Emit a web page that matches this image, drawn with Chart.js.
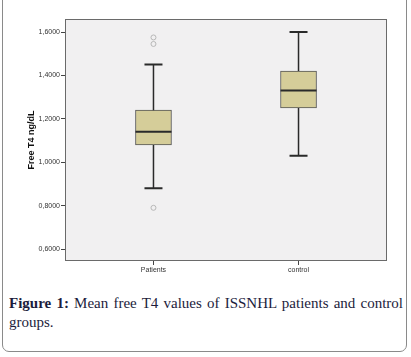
<!DOCTYPE html>
<html>
<head>
<meta charset="utf-8">
<script src="https://cdn.jsdelivr.net/npm/chart.js@4/dist/chart.umd.min.js"></script>
<style>
  html, body { margin: 0; padding: 0; background: #fff; }
  #wrap { position: relative; width: 411px; height: 357px; overflow: hidden; }
  #frame { position: absolute; left: 2px; top: -12px; width: 403px; height: 362px;
           border: 1.5px solid #8a8a8a; border-radius: 7px; }
  #cv { position: absolute; left: 0; top: 0; }
  #cap { position: absolute; left: 9px; top: 294px; width: 394px;
         font-family: "Liberation Serif", "DejaVu Serif", serif; font-size: 15px;
         line-height: 19px; text-align: justify; color: #1c1c3c; }
</style>
</head>
<body>
<div id="wrap">
  <div id="frame"></div>
  <canvas id="cv" width="411" height="280"></canvas>
  <div id="cap"><b>Figure 1:</b> Mean free T4 values of ISSNHL patients and control groups.</div>
</div>
<script>
const categories = ['Patients', 'control'];
const whiskerLow = [0.88, 1.03];
const q1 = [1.08, 1.25];
const median = [1.14, 1.33];
const q3 = [1.24, 1.42];
const whiskerHigh = [1.45, 1.60];
const outlierCat = [0, 0, 0];
const outlierVal = [1.575, 1.545, 0.79];
const yTicks = [0.6, 0.8, 1.0, 1.2, 1.4, 1.6];
const yTickLabels = ['0,6000', '0,8000', '1,0000', '1,2000', '1,4000', '1,6000'];

const boxData = categories.map((c, i) => ({ x: i + 1, y: [q1[i], q3[i]] }));
const outData = outlierVal.map((v, i) => ({ x: outlierCat[i] + 1, y: v }));

const boxPlugin = {
  id: 'boxplot',
  beforeDraw(chart) {
    const a = chart.chartArea, ctx = chart.ctx;
    ctx.save();
    ctx.fillStyle = '#f1f0f1';
    ctx.fillRect(a.left, a.top, a.right - a.left, a.bottom - a.top);
    ctx.restore();
  },
  afterDatasetsDraw(chart) {
    const xs = chart.scales.x, ys = chart.scales.y, ctx = chart.ctx;
    const a = chart.chartArea;
    ctx.save();
    ctx.strokeStyle = '#6a6a6a';
    ctx.lineWidth = 1;
    ctx.strokeRect(a.left + 0.5, a.top + 0.5, a.right - a.left - 1, a.bottom - a.top - 1);
    ctx.strokeStyle = '#2a2a2a';
    categories.forEach((c, i) => {
      const x = xs.getPixelForValue(i + 1);
      const cap = 9;
      ctx.lineWidth = 1.5;
      ctx.beginPath();
      ctx.moveTo(x, ys.getPixelForValue(q3[i]));
      ctx.lineTo(x, ys.getPixelForValue(whiskerHigh[i]));
      ctx.moveTo(x, ys.getPixelForValue(q1[i]));
      ctx.lineTo(x, ys.getPixelForValue(whiskerLow[i]));
      ctx.stroke();
      ctx.lineWidth = 2;
      ctx.beginPath();
      const yh = ys.getPixelForValue(whiskerHigh[i]);
      const yl = ys.getPixelForValue(whiskerLow[i]);
      ctx.moveTo(x - cap, yh); ctx.lineTo(x + cap, yh);
      ctx.moveTo(x - cap, yl); ctx.lineTo(x + cap, yl);
      ctx.stroke();
      const ym = ys.getPixelForValue(median[i]);
      const half = 18;
      ctx.lineWidth = 2;
      ctx.beginPath();
      ctx.moveTo(x - half, ym); ctx.lineTo(x + half, ym);
      ctx.stroke();
    });
    ctx.restore();
  }
};

new Chart(document.getElementById('cv'), {
  data: {
    datasets: [
      {
        type: 'bar',
        data: boxData,
        backgroundColor: '#d5cd99',
        borderColor: '#555555',
        borderWidth: 1,
        borderSkipped: false,
        barThickness: 36
      },
      {
        type: 'scatter',
        data: outData,
        pointStyle: 'circle',
        radius: 2.5,
        backgroundColor: 'rgba(0,0,0,0)',
        borderColor: '#b8b8b8',
        borderWidth: 1
      }
    ]
  },
  options: {
    responsive: false,
    animation: false,
    layout: { padding: { left: 0, right: 24, top: 19, bottom: 0 } },
    plugins: { legend: { display: false }, tooltip: { enabled: false } },
    scales: {
      x: {
        type: 'linear',
        offset: false,
        min: 0.39, max: 2.61,
        afterBuildTicks: s => { s.ticks = categories.map((c, i) => ({ value: i + 1 })); },
        afterFit: s => { s.height = 19; },
        ticks: {
          callback: (v) => categories[Math.round(v) - 1],
          font: { family: 'Arial, "Liberation Sans", sans-serif', size: 7 },
          color: '#333', padding: 1, maxRotation: 0
        },
        grid: { offset: false, drawOnChartArea: false, tickLength: 4, color: '#444' },
        border: { display: false }
      },
      y: {
        type: 'linear',
        min: 0.545, max: 1.66,
        afterBuildTicks: s => { s.ticks = yTicks.map(v => ({ value: v })); },
        afterFit: s => { s.width = 65; },
        ticks: {
          callback: (v) => yTickLabels[yTicks.findIndex(t => Math.abs(t - v) < 1e-6)],
          font: { family: 'Arial, "Liberation Sans", sans-serif', size: 7 },
          color: '#333', padding: 1
        },
        grid: { drawOnChartArea: false, tickLength: 4, color: '#444' },
        border: { display: false },
        title: {
          display: true, text: 'Free T4 ng/dL',
          font: { family: 'Arial, "Liberation Sans", sans-serif', size: 9, weight: 'bold' },
          color: '#111', padding: { top: 26, bottom: 0 }
        }
      }
    }
  },
  plugins: [boxPlugin]
});
</script>
</body>
</html>
